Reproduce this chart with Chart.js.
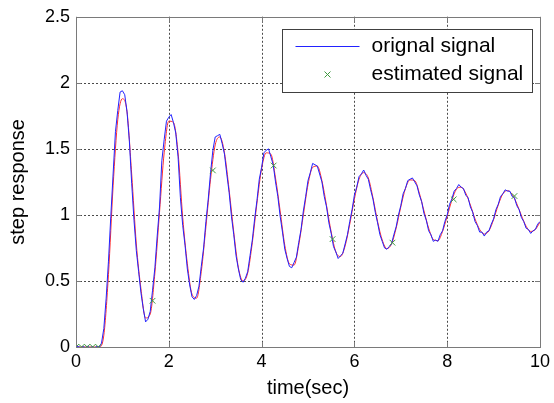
<!DOCTYPE html>
<html>
<head>
<meta charset="utf-8">
<script src="https://cdn.jsdelivr.net/npm/chart.js@4.4.1/dist/chart.umd.min.js"></script>
<style>
  html, body { margin: 0; padding: 0; background: #fff; }
  canvas { display: block; }
</style>
</head>
<body>
<canvas id="myChart" width="554" height="403"></canvas>
<script>
  'use strict'

  // original (noisy) step response, sampled every 0.05 s from 0 to 10
  const origStep = 0.05
  const origSignal = [
    0.000, 0.004, -0.006, 0.003, -0.004, 0.005, -0.005, 0.002, -0.006, 0.004,
    -0.003, 0.03, 0.14, 0.37, 0.65, 0.99, 1.31, 1.63, 1.79, 1.93,
    1.94, 1.91, 1.78, 1.56, 1.24, 0.96, 0.73, 0.57, 0.41, 0.29,
    0.19, 0.21, 0.27, 0.43, 0.60, 0.84, 1.06, 1.41, 1.57, 1.71,
    1.74, 1.76, 1.70, 1.62, 1.44, 1.13, 0.92, 0.77, 0.59, 0.47,
    0.38, 0.36, 0.39, 0.46, 0.61, 0.75, 0.95, 1.12, 1.32, 1.49,
    1.59, 1.60, 1.61, 1.54, 1.46, 1.31, 1.17, 0.99, 0.85, 0.69,
    0.59, 0.51, 0.49, 0.52, 0.57, 0.69, 0.81, 0.97, 1.11, 1.27,
    1.36, 1.47, 1.49, 1.50, 1.44, 1.38, 1.25, 1.14, 0.99, 0.87,
    0.74, 0.67, 0.61, 0.60, 0.64, 0.68, 0.79, 0.89, 1.03, 1.14,
    1.26, 1.32, 1.39, 1.38, 1.37, 1.31, 1.25, 1.14, 1.06, 0.94,
    0.86, 0.76, 0.72, 0.67, 0.69, 0.71, 0.78, 0.85, 0.95, 1.04,
    1.15, 1.21, 1.29, 1.31, 1.34, 1.30, 1.27, 1.19, 1.12, 1.02,
    0.94, 0.85, 0.80, 0.75, 0.74, 0.76, 0.78, 0.85, 0.91, 1.00,
    1.07, 1.16, 1.20, 1.26, 1.27, 1.28, 1.25, 1.22, 1.15, 1.10,
    1.01, 0.96, 0.88, 0.85, 0.80, 0.81, 0.80, 0.85, 0.88, 0.95,
    1.00, 1.08, 1.12, 1.18, 1.20, 1.23, 1.21, 1.20, 1.15, 1.13,
    1.06, 1.02, 0.95, 0.92, 0.87, 0.87, 0.84, 0.87, 0.88, 0.93,
    0.97, 1.04, 1.08, 1.14, 1.16, 1.19, 1.18, 1.18, 1.14, 1.13,
    1.07, 1.04, 0.98, 0.95, 0.90, 0.89, 0.86, 0.88, 0.89, 0.93,
    0.95
  ]

  // smooth model output (red line, not in legend), every 0.1 s
  const modelStep = 0.1
  const modelSignal = [
    0, 0, 0, 0, 0, 0.0, 0.09, 0.55, 1.22, 1.72,
    1.88, 1.78, 1.31, 0.78, 0.44, 0.22, 0.25, 0.56, 1.02, 1.47,
    1.71, 1.70, 1.47, 0.98, 0.63, 0.40, 0.37, 0.57, 0.91, 1.27,
    1.53, 1.59, 1.47, 1.19, 0.87, 0.60, 0.50, 0.56, 0.79, 1.09,
    1.35, 1.47, 1.46, 1.28, 1.03, 0.77, 0.63, 0.62, 0.77, 1.00,
    1.23, 1.36, 1.37, 1.26, 1.07, 0.87, 0.72, 0.685, 0.765, 0.93,
    1.12, 1.27, 1.32, 1.28, 1.13, 0.95, 0.81, 0.745, 0.78, 0.90,
    1.06, 1.20, 1.265, 1.26, 1.165, 1.03, 0.90, 0.815, 0.805, 0.875,
    0.99, 1.11, 1.195, 1.21, 1.165, 1.075, 0.97, 0.89, 0.855, 0.88,
    0.965, 1.075, 1.16, 1.185, 1.155, 1.085, 0.995, 0.915, 0.875, 0.89,
    0.945
  ]

  // estimated signal (green x markers)
  const estTime = [0, 0.12, 0.24, 0.36, 0.48, 1.65, 2.95, 4.26, 5.53, 6.82, 8.14, 9.45]
  const estValue = [0, 0, 0, 0, 0, 0.35, 1.337, 1.374, 0.817, 0.79, 1.118, 1.143]

  const legendLabels = ['orignal signal', 'estimated signal']
  const xTitle = 'time(sec)'
  const yTitle = 'step response'

  const BLUE = '#2222ff'
  const RED = '#ff3030'
  const GREEN = '#3f9a3f'
  const FRAME = '#7a7a7a'
  const FONT = "'Liberation Sans', Arial, sans-serif"

  Chart.defaults.font.family = FONT
  Chart.defaults.color = '#000'

  const origData = origSignal.map((v, i) => ({ x: +(i * origStep).toFixed(2), y: v }))
  const modelData = modelSignal.map((v, i) => ({ x: +(i * modelStep).toFixed(2), y: v }))
  const estData = estTime.map((t, i) => ({ x: t, y: estValue[i] }))

  // matlab style dotted grid, box, inner ticks and legend
  const frame = {
    id: 'frame',
    beforeDatasetsDraw(chart) {
      const { ctx, chartArea: a, scales } = chart
      ctx.save()
      ctx.strokeStyle = '#4a4a4a'
      ctx.lineWidth = 1
      ctx.setLineDash([2, 2])
      ctx.beginPath()
      scales.x.ticks.forEach(t => {
        if (t.value <= scales.x.min || t.value >= scales.x.max) return
        const px = Math.round(scales.x.getPixelForValue(t.value)) + 0.5
        ctx.moveTo(px, a.top); ctx.lineTo(px, a.bottom)
      })
      scales.y.ticks.forEach(t => {
        if (t.value <= scales.y.min || t.value >= scales.y.max) return
        const py = Math.round(scales.y.getPixelForValue(t.value)) + 0.5
        ctx.moveTo(a.left, py); ctx.lineTo(a.right, py)
      })
      ctx.stroke()
      ctx.restore()
    },
    afterDraw(chart) {
      const { ctx, chartArea: a, scales } = chart
      ctx.save()
      ctx.strokeStyle = FRAME
      ctx.lineWidth = 1
      ctx.strokeRect(Math.round(a.left) + 0.5, Math.round(a.top) + 0.5,
        Math.round(a.right - a.left), Math.round(a.bottom - a.top))
      ctx.beginPath()
      scales.x.ticks.forEach(t => {
        const px = Math.round(scales.x.getPixelForValue(t.value)) + 0.5
        ctx.moveTo(px, a.bottom); ctx.lineTo(px, a.bottom - 5)
        ctx.moveTo(px, a.top); ctx.lineTo(px, a.top + 5)
      })
      scales.y.ticks.forEach(t => {
        const py = Math.round(scales.y.getPixelForValue(t.value)) + 0.5
        ctx.moveTo(a.left, py); ctx.lineTo(a.left + 5, py)
        ctx.moveTo(a.right, py); ctx.lineTo(a.right - 5, py)
      })
      ctx.stroke()

      // legend
      const bx = Math.round(a.right - 258) + 0.5
      const by = Math.round(a.top + 12) + 0.5
      const bw = 250, bh = 63
      ctx.fillStyle = '#fff'
      ctx.fillRect(bx, by, bw, bh)
      ctx.strokeStyle = '#404040'
      ctx.strokeRect(bx, by, bw, bh)

      const y1 = by + 16.5, y2 = by + 45
      ctx.strokeStyle = BLUE
      ctx.beginPath()
      ctx.moveTo(bx + 13, Math.round(y1) + 0.5)
      ctx.lineTo(bx + 77, Math.round(y1) + 0.5)
      ctx.stroke()

      ctx.strokeStyle = GREEN
      ctx.beginPath()
      const mx = bx + 45, r = 3
      ctx.moveTo(mx - r, y2 - r); ctx.lineTo(mx + r, y2 + r)
      ctx.moveTo(mx - r, y2 + r); ctx.lineTo(mx + r, y2 - r)
      ctx.stroke()

      ctx.fillStyle = '#000'
      ctx.font = '21px ' + FONT
      ctx.textBaseline = 'middle'
      ctx.textAlign = 'left'
      ctx.fillText(legendLabels[0], bx + 89, y1)
      ctx.fillText(legendLabels[1], bx + 89, y2)
      ctx.restore()
    }
  }

  const ctx = document.getElementById('myChart')
  // eslint-disable-next-line no-unused-vars
  const myChart = new Chart(ctx, {
    type: 'line',
    data: {
      datasets: [{
        label: legendLabels[1],
        data: estData,
        showLine: false,
        pointStyle: 'crossRot',
        pointRadius: 4,
        pointBorderWidth: 1,
        pointBorderColor: GREEN,
        borderColor: GREEN,
        order: 0
      }, {
        label: legendLabels[0],
        data: origData,
        borderColor: BLUE,
        borderWidth: 1,
        pointRadius: 0,
        tension: 0,
        order: 1
      }, {
        label: 'model',
        data: modelData,
        borderColor: RED,
        borderWidth: 1,
        pointRadius: 0,
        cubicInterpolationMode: 'monotone',
        order: 2
      }]
    },
    options: {
      responsive: false,
      animation: false,
      devicePixelRatio: 1,
      layout: {
        padding: { left: 0, top: 15, right: 12.5, bottom: 0 }
      },
      scales: {
        x: {
          type: 'linear',
          min: 0,
          max: 10,
          afterFit: s => { s.height = 56 },
          ticks: { stepSize: 2, padding: 4, font: { size: 18 }, color: '#000' },
          grid: { display: false, drawTicks: false },
          border: { display: false },
          title: { display: true, text: xTitle, font: { size: 20 }, color: '#000', padding: { top: 3, bottom: 3 } }
        },
        y: {
          min: 0,
          max: 2.5,
          afterFit: s => { s.width = 76 },
          ticks: {
            stepSize: 0.5, padding: 6, font: { size: 18 }, color: '#000',
            callback: v => String(+v.toFixed(1))
          },
          grid: { display: false, drawTicks: false },
          border: { display: false },
          title: { display: true, text: yTitle, font: { size: 20 }, color: '#000', padding: { top: 6, bottom: 6 } }
        }
      },
      plugins: {
        legend: { display: false },
        tooltip: { enabled: false }
      }
    },
    plugins: [frame]
  })
</script>
</body>
</html>
